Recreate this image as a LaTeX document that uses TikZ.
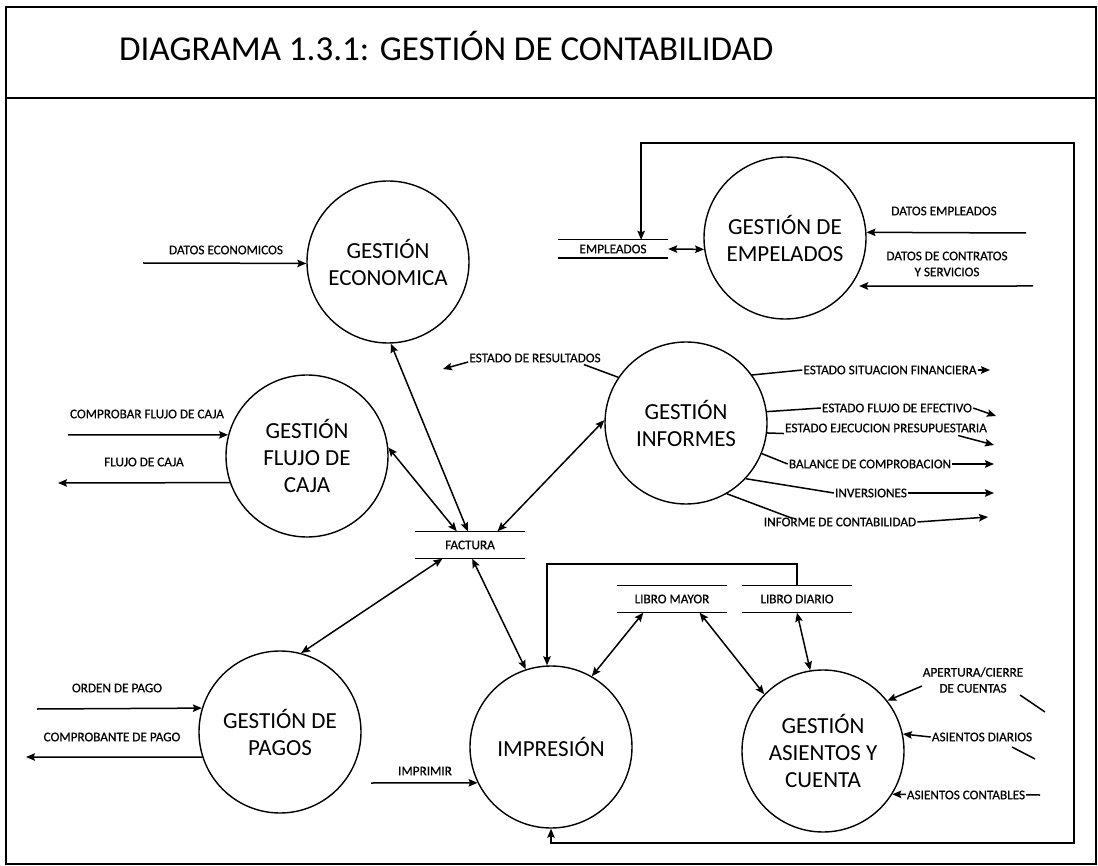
\documentclass[tikz,border=0pt]{standalone}
\usepackage{fontspec}
\setmainfont{Carlito}
\newfontfamily\lblfamily[FakeBold=0.6]{Carlito}
\usetikzlibrary{arrows.meta,calc}
\begin{document}
\begin{tikzpicture}[x=1pt,y=-1pt,
  proc/.style={circle,draw,line width=1.4pt,minimum size=162pt,inner sep=0pt,align=center,
    font=\fontsize{23}{27}\selectfont},
  lbl/.style={inner sep=1pt,align=center,font=\lblfamily\fontsize{13.2}{16}\selectfont},
  store/.style={minimum width=110pt,minimum height=27pt,inner sep=0pt,font=\lblfamily\fontsize{13.2}{16}\selectfont},
  storeline/.style={line width=1.4pt},
  plain/.style={line width=1.5pt},
  tip/.tip={Stealth[length=9pt,width=7.5pt,inset=1.5pt]},
  flow/.style={line width=1.5pt,-tip},
  biflow/.style={line width=1.5pt,tip-tip}]

\useasboundingbox (0,0) rectangle (1098,866);

% page frame and title block
\draw[line width=1.4pt] (6,7) rectangle (1096,864);
\draw[line width=1.4pt] (6,98) -- (1096,98);
\node[anchor=base west,inner sep=0pt,font=\fontsize{35}{40}\selectfont] (title) at (119,61)
  {DIAGRAMA 1.3.1: GESTIÓN DE CONTABILIDAD};

% processes
\node[proc] (econ) at (388,262) {GESTIÓN\\ECONOMICA};
\node[proc] (emp)  at (785,238) {GESTIÓN DE\\EMPELADOS};
\node[proc] (flujo) at (307,456) {GESTIÓN\\FLUJO DE\\CAJA};
\node[proc] (inf)  at (686,423) {GESTIÓN\\INFORMES};
\node[proc] (pag)  at (280,732) {GESTIÓN DE\\PAGOS};
\node[proc] (imp)  at (551,747) {IMPRESIÓN};
\node[proc] (asi)  at (823,751) {GESTIÓN\\ASIENTOS Y\\CUENTA};

% data stores
\node[store,minimum height=18pt] (es) at (613,249) {EMPLEADOS};
\node[store] (fa) at (470,545) {FACTURA};
\node[store] (lm) at (672,599) {LIBRO MAYOR};
\node[store] (ld) at (797,599) {LIBRO DIARIO};
\foreach \s in {es,fa,lm,ld}
  \draw[storeline] (\s.north west) -- (\s.north east) (\s.south west) -- (\s.south east);

% free ends of external flows
\coordinate (deIn)  at (143,263);
\coordinate (cfIn)  at (68,435);
\coordinate (fcOut) at (58,483);
\coordinate (opIn)  at (37,709);
\coordinate (cpOut) at (26,757);
\coordinate (imIn)  at (371,783);
\coordinate (daIn)  at (1026,233);
\coordinate (dcIn)  at (1033,286);
\coordinate (erOut) at (443,369);
\coordinate (apIn)  at (922,686);
\coordinate (acIn)  at (1040,795);
\coordinate (rt)    at (1074,143);
\coordinate (rb)    at (1074,843);
\coordinate (lp)    at (547,564);

% external inputs / outputs with their labels
\node[lbl] (deL) at (226,250) {DATOS ECONOMICOS};
\draw[flow] (deIn) -- (econ.181);

\node[lbl] (cfL) at (147,414) {COMPROBAR FLUJO DE CAJA};
\draw[flow] (cfIn) -- (flujo.165);
\node[lbl] (fcL) at (144,462) {FLUJO DE CAJA};
\draw[flow] (flujo.199.5) -- (fcOut);

\node[lbl] (opL) at (117,688) {ORDEN DE PAGO};
\draw[flow] (opIn) -- (pag.163.5);
\node[lbl] (cpL) at (112,737) {COMPROBANTE DE PAGO};
\draw[flow] (pag.198) -- (cpOut);

\node[lbl] (imL) at (425,771) {IMPRIMIR};
\draw[flow] (imIn) -- (imp.206);

\node[lbl] (daL) at (944,211) {DATOS EMPLEADOS};
\draw[flow] (daIn) -- (emp.4);
\node[lbl] (dcL) at (947,264) {DATOS DE CONTRATOS\\Y SERVICIOS};
\draw[flow,shorten >=8pt] (dcIn) -- (emp.-36);

% flows around the invoice store
\draw[biflow] (econ.-88) -- ($(fa.north west)!0.48!(fa.north east)$);
\draw[biflow] (flujo.6) -- ($(fa.north west)!0.38!(fa.north east)$);
\draw[biflow] (inf.178) -- ($(fa.north west)!0.75!(fa.north east)$);
\draw[biflow] (pag.75) -- ($(fa.south west)!0.25!(fa.south east)$);
\draw[biflow] ($(fa.south west)!0.52!(fa.south east)$) -- (imp.108);

% ledgers
\draw[biflow] ($(lm.south west)!0.24!(lm.south east)$) -- (imp.60);
\draw[biflow] ($(lm.south west)!0.75!(lm.south east)$) -- (asi.136);
\draw[biflow] (ld.south) -- (asi.99);
\draw[flow] (ld.north) |- (lp) -- (lp |- imp.north);

% employees store and the outer loop
\draw[biflow] (es.east) -- (emp.188);
\draw[biflow] ($(es.north west)!0.755!(es.north east)$) |- (rt) -- (rb) -| (imp.south);

% report outputs
\node[lbl] (erL) at (535,358) {ESTADO DE RESULTADOS};
\draw[plain] (inf.146) -- ($(erL.south east)+(-18,1)$);
\draw[flow] ($(erL.west)+(0,4)$) -- (erOut);

\coordinate (esfOut) at (990,370);
\coordinate (efeOut) at (996,416);
\coordinate (eepOut) at (994,445);
\coordinate (bcOut)  at (994,464);
\coordinate (invOut) at (994,493);
\coordinate (idcOut) at (988,517);

\node[lbl] (esf) at (890,370) {ESTADO SITUACION FINANCIERA};
\draw[plain] (inf.36) -- (esf.west);
\draw[flow] (esf.east) -- (esfOut);

\node[lbl] (efe) at (897,408) {ESTADO FLUJO DE EFECTIVO};
\draw[plain] (inf.8) -- (efe.west);
\draw[flow] (efe.east) -- (efeOut);

\node[lbl] (eep) at (886,428) {ESTADO EJECUCION PRESUPUESTARIA};
\draw[plain] (inf.-7) -- (eep.south west);
\draw[flow] ($(eep.south east)+(-30,2)$) -- (eepOut);

\node[lbl] (bc) at (870,464) {BALANCE DE COMPROBACION};
\draw[plain] (inf.-22) -- (bc.west);
\draw[flow] (bc.east) -- (bcOut);

\node[lbl] (inv) at (871,493) {INVERSIONES};
\draw[plain] (inf.-43) -- (inv.west);
\draw[flow] (inv.east) -- (invOut);

\node[lbl] (idc) at (840,522) {INFORME DE CONTABILIDAD};
\draw[plain] (inf.-60) -- ($(idc.north west)+(30,2)$);
\draw[flow] (idc.east) -- (idcOut);

% accounting entries inputs
\node[lbl] (apL) at (973,680) {APERTURA/CIERRE\\DE CUENTAS};
\draw[flow] (apIn) -- (asi.38);
\draw[plain] (1020,695) -- (1045,712);
\draw[plain] (1012,747) -- (1035,759);

\node[lbl] (adL) at (982,737) {ASIENTOS DIARIOS};
\draw[flow] (adL.west) -- (asi.12);

\draw[flow] (acIn) -- (asi.-32);
\node[lbl,fill=white] (acL) at (966,795) {ASIENTOS CONTABLES};

\end{tikzpicture}
\end{document}
